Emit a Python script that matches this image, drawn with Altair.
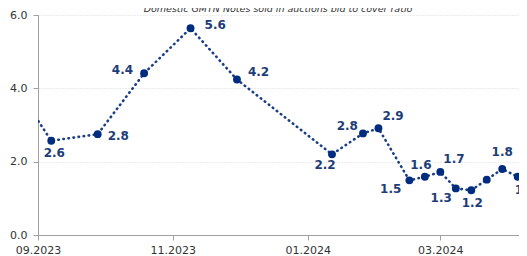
import altair as alt
import pandas as pd

# ---- data ----
dates = ["2023-08-17", "2023-09-07", "2023-09-28", "2023-10-19", "2023-11-09", "2023-11-30",
         "2024-01-12", "2024-01-26", "2024-02-02", "2024-02-16", "2024-02-23", "2024-03-01",
         "2024-03-08", "2024-03-15", "2024-03-22", "2024-03-29", "2024-04-05", "2024-04-12"]
values = [4.5, 2.57, 2.75, 4.41, 5.64, 4.24,
          2.20, 2.77, 2.91, 1.49, 1.59, 1.72,
          1.27, 1.22, 1.51, 1.80, 1.59, 2.0]
labels = ["", "2.6", "2.8", "4.4", "5.6", "4.2",
          "2.2", "2.8", "2.9", "1.5", "1.6", "1.7",
          "1.3", "1.2", "", "1.8", "1.6", "2.0"]
y_ticks = [0, 2, 4, 6]
title_text = "Domestic GMTN Notes sold in auctions bid to cover ratio"

# label placement (align, dx, dy) per point
placements = [("center", 0, -12), ("center", 3, 12), ("left", 10, 2), ("right", -11, -3),
              ("left", 14, -3), ("left", 11, -8), ("center", -7, 11), ("right", -5, -7),
              ("left", 4, -12), ("right", -8, 9), ("center", -4, -12), ("left", 3, -13),
              ("right", -4, 10), ("center", 1, 13), ("center", 0, -12), ("center", 0, -17),
              ("left", -3, 13), ("center", 0, -13)]

NAVY = "#002c80"
LINE = "#1a3f85"
LABEL = "#1d3c78"

df = pd.DataFrame({"date": dates, "value": values, "label": labels, "idx": list(range(len(dates)))})

x_enc = alt.X(
    "date:T",
    title=None,
    scale=alt.Scale(
        type="utc",
        domain=[alt.DateTime(year=2023, month=9, date=1, utc=True),
                alt.DateTime(year=2024, month=4, date=5, hours=14, utc=True)],
    ),
    axis=alt.Axis(
        values=[alt.DateTime(year=2023, month=9, date=1, utc=True),
                alt.DateTime(year=2023, month=11, date=1, utc=True),
                alt.DateTime(year=2024, month=1, date=1, utc=True),
                alt.DateTime(year=2024, month=3, date=1, utc=True)],
        format="%m.%Y",
        grid=False,
        labelFlush=False,
        labelOverlap=False,
        tickSize=5,
        labelPadding=4,
    ),
)
y_enc = alt.Y(
    "value:Q",
    title=None,
    scale=alt.Scale(domain=[0, 6], nice=False, zero=True),
    axis=alt.Axis(
        values=y_ticks,
        format=".1f",
        grid=True,
        gridDash=[1, 2],
        gridColor="#d8d8d8",
        gridWidth=1,
        tickSize=5,
        labelPadding=6,
    ),
)

base = alt.Chart(df).encode(x=x_enc, y=y_enc)

line = base.mark_line(clip=True, color=LINE, strokeDash=[0.5, 4.6], strokeWidth=2.6, strokeCap="round")
points = base.mark_circle(clip=True, color=NAVY, size=62, opacity=1)

texts = []
for i, (al, dx, dy) in enumerate(placements):
    if not labels[i]:
        continue
    texts.append(
        base.transform_filter(alt.datum.idx == i).mark_text(
            clip=True, align=al, baseline="middle", dx=dx, dy=dy,
            font="DejaVu Sans", fontWeight="bold", fontSize=12, color=LABEL,
        ).encode(text="label:N")
    )

title_mark = alt.Chart(pd.DataFrame({"t": [title_text]})).mark_text(
    font="DejaVu Sans", fontStyle="italic", fontSize=9.5, color="#333333",
    align="center", baseline="alphabetic",
).encode(x=alt.value(240), y=alt.value(-3.5), text="t:N")

chart = alt.layer(line, points, *texts, title_mark).properties(
    width=481,
    height=220,
    autosize=alt.AutoSizeParams(type="none"),
    padding={"left": 30, "top": 7, "right": 0, "bottom": 21},
).configure_view(stroke=None).configure_axis(
    labelFont="DejaVu Sans",
    labelFontSize=11,
    labelColor="#333333",
    domainColor="#a0a0a0",
    tickColor="#a0a0a0",
    domainWidth=1,
)

chart.save("out.html", embed_options={"renderer": "svg", "actions": False})
